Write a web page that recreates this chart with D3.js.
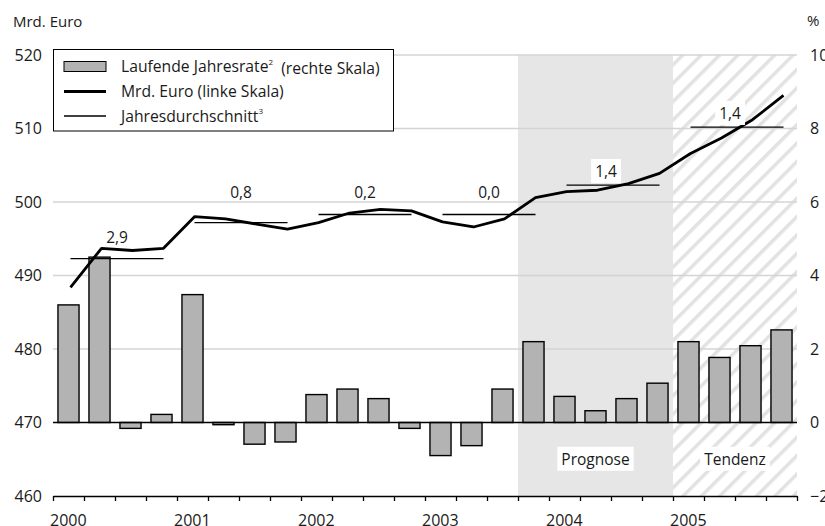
<!DOCTYPE html>
<html><head><meta charset="utf-8">
<script src="https://cdn.jsdelivr.net/npm/d3@7"></script>
<style>
body{margin:0;background:#fff;}
svg{display:block;font-family:"Open Sans",sans-serif;}
</style></head>
<body><svg id="c" width="825" height="526"></svg>
<script>
// ---- data ----
const years = [2000, 2001, 2002, 2003, 2004, 2005];
const quarters = d3.range(24); // 2000 Q1 .. 2005 Q4
const rateValues = [3.2, 4.5, -0.16, 0.22, 3.48, -0.06, -0.59, -0.53, 0.76, 0.91, 0.65, -0.16,
                    -0.9, -0.63, 0.91, 2.2, 0.71, 0.32, 0.65, 1.07, 2.2, 1.77, 2.09, 2.52];
const euroValues = [488.4, 493.7, 493.4, 493.7, 498.0, 497.7, 497.0, 496.3, 497.2, 498.5, 499.0, 498.8,
                    497.3, 496.6, 497.7, 500.6, 501.4, 501.6, 502.5, 503.9, 506.6, 508.7, 511.2, 514.5];
const annualAverage = [492.3, 497.2, 498.3, 498.3, 502.3, 510.2];
const annualGrowthLabels = ["2,9", "0,8", "0,2", "0,0", "1,4", "1,4"];
const labelLevel = [494.4, 500.5, 500.5, 500.5, 503.4, 511.3];
const leftTicks = [460, 470, 480, 490, 500, 510, 520];
const rightTicks = [-2, 0, 2, 4, 6, 8, 10];
const rightTickLabels = ["\u22122", "0", "2", "4", "6", "8", "10"];
const prognoseRange = [15, 20]; // quarter indices
const tendenzRange = [20, 24];

// ---- layout ----
const svg = d3.select("#c");
const L = 53, R = 797, T = 55, B = 496;
const xq = d3.scaleLinear().domain([0, 24]).range([L, R]);
const xb = d3.scaleBand().domain(quarters).range([L, R]).paddingInner(0.32).paddingOuter(0.16);
const yL = d3.scaleLinear().domain([460, 520]).range([B, T]);
const yR = d3.scaleLinear().domain([-2, 10]).range([B, T]);
const cx = i => xb(i) + xb.bandwidth() / 2;
const TXT = "#1a1a1a";

// hatch pattern
const defs = svg.append("defs");
const pat = defs.append("pattern").attr("id", "hatch").attr("patternUnits", "userSpaceOnUse")
  .attr("width", 13).attr("height", 13).attr("patternTransform", "rotate(45)");
pat.append("rect").attr("width", 13).attr("height", 13).attr("fill", "#fff");
pat.append("line").attr("x1", 0).attr("y1", 0).attr("x2", 0).attr("y2", 13)
  .attr("stroke", "#e2e2e2").attr("stroke-width", 7);

// shaded regions
svg.append("rect").attr("x", xq(prognoseRange[0])).attr("y", T)
  .attr("width", xq(prognoseRange[1]) - xq(prognoseRange[0])).attr("height", B - T).attr("fill", "#e6e6e6");
svg.append("rect").attr("x", xq(tendenzRange[0])).attr("y", T)
  .attr("width", xq(tendenzRange[1]) - xq(tendenzRange[0])).attr("height", B - T).attr("fill", "url(#hatch)");

// gridlines
svg.append("g").selectAll("line").data(leftTicks.filter(v => v > 470)).join("line")
  .attr("x1", L).attr("x2", R).attr("y1", d => yL(d)).attr("y2", d => yL(d))
  .attr("stroke", "#d4d4d4").attr("stroke-width", 1.5);

// region labels
function boxedText(x, y, txt) {
  const g = svg.append("g");
  const t = g.append("text").attr("x", x).attr("y", y).attr("text-anchor", "middle")
    .attr("font-size", 15.5).attr("fill", TXT).text(txt);
  const bb = t.node().getBBox();
  g.insert("rect", "text").attr("x", bb.x - 4).attr("y", bb.y - 1).attr("width", bb.width + 8)
    .attr("height", bb.height + 2).attr("fill", "#fff");
}
boxedText((xq(prognoseRange[0]) + xq(prognoseRange[1])) / 2, yR(-1.15), "Prognose");
boxedText((xq(tendenzRange[0]) + xq(tendenzRange[1])) / 2, yR(-1.15), "Tendenz");

// bars
svg.append("g").selectAll("rect").data(quarters).join("rect")
  .attr("x", i => xb(i)).attr("width", xb.bandwidth())
  .attr("y", i => Math.min(yR(rateValues[i]), yR(0)))
  .attr("height", i => Math.abs(yR(rateValues[i]) - yR(0)))
  .attr("fill", "#b3b3b3").attr("stroke", "#000").attr("stroke-width", 1.4);

// zero line
svg.append("line").attr("x1", L).attr("x2", R).attr("y1", yR(0)).attr("y2", yR(0))
  .attr("stroke", "#000").attr("stroke-width", 1.5);

// annual averages
svg.append("g").selectAll("line").data(years).join("line")
  .attr("x1", (d, k) => cx(k * 4) + 2).attr("x2", (d, k) => cx(k * 4 + 3) + 2)
  .attr("y1", (d, k) => yL(annualAverage[k])).attr("y2", (d, k) => yL(annualAverage[k]))
  .attr("stroke", "#000").attr("stroke-width", 1.3);

// main line
svg.append("path").datum(quarters)
  .attr("d", d3.line().x(i => cx(i) + 2).y(i => yL(euroValues[i])))
  .attr("fill", "none").attr("stroke", "#000").attr("stroke-width", 2.8).attr("stroke-linejoin", "round");

// growth labels
years.forEach((y, k) => {
  const x = xq(k * 4 + 2);
  const yy = yL(labelLevel[k]);
  if (x >= xq(prognoseRange[0])) boxedText(x - 5, yy, annualGrowthLabels[k]);
  else svg.append("text").attr("x", x + 2).attr("y", yy).attr("text-anchor", "middle")
    .attr("font-size", 15.5).attr("fill", TXT).text(annualGrowthLabels[k]);
});

// bottom axis
const ax = svg.append("g").attr("transform", `translate(0,${B})`)
  .call(d3.axisBottom(xq).tickValues(d3.range(25)).tickSize(5).tickSizeOuter(0).tickFormat(""));
ax.select(".domain").attr("stroke", "#000").attr("stroke-width", 1.5);
ax.selectAll(".tick line").attr("stroke", "#000").attr("stroke-width", 1.3);
svg.append("g").selectAll("text").data(years).join("text")
  .attr("x", (d, k) => xq(k * 4) - 3).attr("y", 526).attr("font-size", 16).attr("fill", TXT)
  .text(d => d);

// left axis labels
svg.append("g").selectAll("text").data(leftTicks).join("text")
  .attr("x", 42).attr("y", d => yL(d)).attr("dy", "0.36em").attr("text-anchor", "end")
  .attr("font-size", 16).attr("fill", TXT).text(d => d);
// right axis labels
svg.append("g").selectAll("text").data(rightTicks).join("text")
  .attr("x", 810).attr("y", d => yR(d)).attr("dy", "0.36em").attr("text-anchor", "start")
  .attr("font-size", 16).attr("fill", TXT).text((d, i) => rightTickLabels[i]);

svg.append("text").attr("x", 13).attr("y", 27).attr("font-size", 15).attr("fill", TXT).text("Mrd. Euro");
svg.append("text").attr("x", 807).attr("y", 26).attr("font-size", 15).attr("fill", TXT).text("%");

// legend
const lg = svg.append("g");
lg.append("rect").attr("x", 53.5).attr("y", 49.5).attr("width", 340).attr("height", 81.5)
  .attr("fill", "#fff").attr("stroke", "#000").attr("stroke-width", 1);
const rows = [66.5, 91.5, 116];
lg.append("rect").attr("x", 64).attr("y", rows[0] - 5).attr("width", 42).attr("height", 10)
  .attr("fill", "#b3b3b3").attr("stroke", "#000").attr("stroke-width", 1);
lg.append("line").attr("x1", 64).attr("x2", 106).attr("y1", rows[1]).attr("y2", rows[1])
  .attr("stroke", "#000").attr("stroke-width", 2.8);
lg.append("line").attr("x1", 64).attr("x2", 106).attr("y1", rows[2]).attr("y2", rows[2])
  .attr("stroke", "#000").attr("stroke-width", 1.3);
function legendText(y, parts) {
  const t = lg.append("text").attr("x", 121).attr("y", y).attr("dy", "0.36em")
    .attr("font-size", 15.7).attr("fill", TXT);
  parts.forEach(p => {
    const s = t.append("tspan").text(p.t);
    if (p.sup) s.attr("font-size", 8).attr("dy", "-0.9em");
    if (p.after) s.attr("dy", "0.55em");
  });
}
legendText(rows[0], [{t: "Laufende Jahresrate"}, {t: "2", sup: true}, {t: "\u00a0\u00a0(rechte Skala)", after: true}]);
legendText(rows[1], [{t: "Mrd. Euro (linke Skala)"}]);
legendText(rows[2], [{t: "Jahresdurchschnitt"}, {t: "3", sup: true}]);
</script></body></html>
